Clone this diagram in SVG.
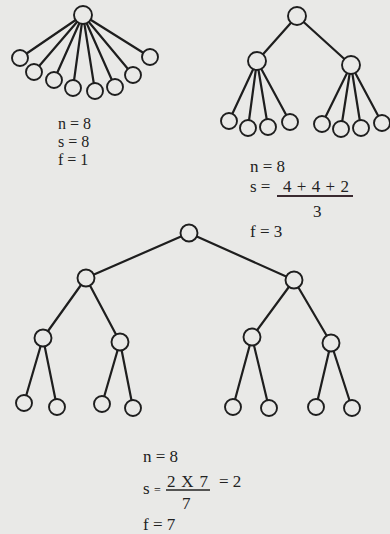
<svg xmlns="http://www.w3.org/2000/svg" width="390" height="534" viewBox="0 0 390 534">
<style>
.n{fill:#e9e9e7;stroke:#1e1e1e;stroke-width:1.9}
.e{stroke:#1e1e1e;stroke-width:2.2;fill:none}
.t{font-family:"Liberation Serif","Times New Roman",serif;font-size:17px;fill:#222}
</style>
<rect width="390" height="534" fill="#e9e9e7"/>
<g id="connectors" class="e">
<path d="M83 15L20 58M83 15L34 72M83 15L54 80M83 15L73 88M83 15L95 91M83 15L115 87M83 15L133 75M83 15L150 57"/>
<path d="M297 16L257 61M297 16L351 65M257 61L229 121M257 61L248 128M257 61L268 127M257 61L290 122M351 65L322 124M351 65L341 129M351 65L361 128M351 65L382 123"/>
<path d="M189 233L86 278M189 233L294 280M86 278L43 338M86 278L120 342M294 280L252 337M294 280L331 343"/>
<path d="M43 338L24 403M43 338L57 407M120 342L102 404M120 342L133 408M252 337L233 407M252 337L269 408M331 343L316 407M331 343L352 408"/>
</g>
<g id="t1-root"><circle class="n" cx="83" cy="15" r="9"/></g>
<g id="t1-l1"><circle class="n" cx="20" cy="58" r="8"/></g>
<g id="t1-l2"><circle class="n" cx="34" cy="72" r="8"/></g>
<g id="t1-l3"><circle class="n" cx="54" cy="80" r="8"/></g>
<g id="t1-l4"><circle class="n" cx="73" cy="88" r="8"/></g>
<g id="t1-l5"><circle class="n" cx="95" cy="91" r="8"/></g>
<g id="t1-l6"><circle class="n" cx="115" cy="87" r="8"/></g>
<g id="t1-l7"><circle class="n" cx="133" cy="75" r="8"/></g>
<g id="t1-l8"><circle class="n" cx="150" cy="57" r="8"/></g>
<g id="t2-root"><circle class="n" cx="297" cy="16" r="9"/></g>
<g id="t2-a"><circle class="n" cx="257" cy="61" r="9"/></g>
<g id="t2-b"><circle class="n" cx="351" cy="65" r="9"/></g>
<g id="t2-a1"><circle class="n" cx="229" cy="121" r="8"/></g>
<g id="t2-a2"><circle class="n" cx="248" cy="128" r="8"/></g>
<g id="t2-a3"><circle class="n" cx="268" cy="127" r="8"/></g>
<g id="t2-a4"><circle class="n" cx="290" cy="122" r="8"/></g>
<g id="t2-b1"><circle class="n" cx="322" cy="124" r="8"/></g>
<g id="t2-b2"><circle class="n" cx="341" cy="129" r="8"/></g>
<g id="t2-b3"><circle class="n" cx="361" cy="128" r="8"/></g>
<g id="t2-b4"><circle class="n" cx="382" cy="123" r="8"/></g>
<g id="t3-root"><circle class="n" cx="189" cy="233" r="8.5"/></g>
<g id="t3-a"><circle class="n" cx="86" cy="278" r="8.5"/></g>
<g id="t3-b"><circle class="n" cx="294" cy="280" r="8.5"/></g>
<g id="t3-a1"><circle class="n" cx="43" cy="338" r="8.5"/></g>
<g id="t3-a2"><circle class="n" cx="120" cy="342" r="8.5"/></g>
<g id="t3-b1"><circle class="n" cx="252" cy="337" r="8.5"/></g>
<g id="t3-b2"><circle class="n" cx="331" cy="343" r="8.5"/></g>
<g id="t3-l1"><circle class="n" cx="24" cy="403" r="8"/></g>
<g id="t3-l2"><circle class="n" cx="57" cy="407" r="8"/></g>
<g id="t3-l3"><circle class="n" cx="102" cy="404" r="8"/></g>
<g id="t3-l4"><circle class="n" cx="133" cy="408" r="8"/></g>
<g id="t3-l5"><circle class="n" cx="233" cy="407" r="8"/></g>
<g id="t3-l6"><circle class="n" cx="269" cy="408" r="8"/></g>
<g id="t3-l7"><circle class="n" cx="316" cy="407" r="8"/></g>
<g id="t3-l8"><circle class="n" cx="352" cy="408" r="8"/></g>
<g id="label1" class="t" font-size="16">
<text x="58" y="129" style="font-size:16px">n = 8</text>
<text x="58" y="147" style="font-size:16px">s = 8</text>
<text x="58" y="165" style="font-size:16px">f = 1</text>
</g>
<g id="label2" class="t">
<text x="250" y="172">n = 8</text>
<text x="250" y="192">s =</text>
<text x="283" y="192" textLength="66">4 + 4 + 2</text>
<line x1="277" y1="196" x2="353" y2="196" stroke="#3a2a30" stroke-width="2"/>
<text x="313" y="217">3</text>
<text x="250" y="237">f = 3</text>
</g>
<g id="label3" class="t">
<text x="143" y="462">n = 8</text>
<text x="143" y="494">s <tspan font-size="12">=</tspan></text>
<text x="167" y="487" textLength="41">2 X 7</text>
<text x="219" y="487">= 2</text>
<line x1="166" y1="490" x2="210" y2="490" stroke="#222" stroke-width="1.5"/>
<text x="182" y="509">7</text>
<text x="143" y="530">f = 7</text>
</g>
</svg>
